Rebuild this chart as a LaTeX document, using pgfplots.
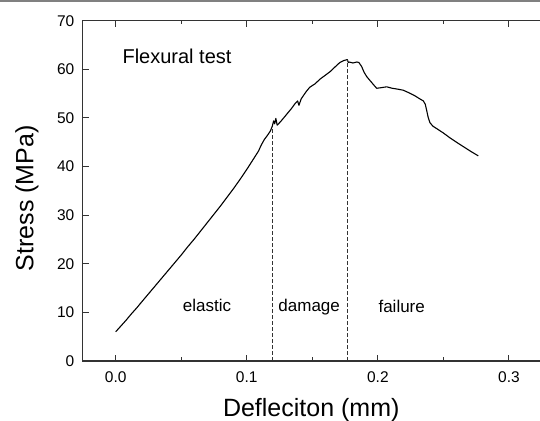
\documentclass[border=0pt]{standalone}
\usepackage{pgfplots}
\pgfplotsset{compat=1.18}
\usepackage{fontspec}
\setmainfont{Liberation Sans}

\pgfplotstableread{
x y
0 6.0
0.004 7.2
0.008 8.4
0.012 9.7
0.016 10.9
0.02 12.2
0.025 13.8
0.03 15.4
0.035 17.0
0.04 18.6
0.045 20.2
0.05 21.8
0.055 23.5
0.06 25.1
0.065 26.8
0.07 28.5
0.075 30.2
0.08 31.9
0.085 33.7
0.09 35.5
0.095 37.4
0.10 39.4
0.105 41.5
0.109 43.2
0.111 44.4
0.1135 45.6
0.116 46.5
0.118 47.3
0.1195 48.3
0.1205 49.4
0.1213 48.8
0.1222 49.9
0.1232 48.5
0.126 49.3
0.13 50.6
0.134 51.9
0.137 53.0
0.1388 53.5
0.1398 52.6
0.1415 53.9
0.145 55.3
0.148 56.3
0.152 57.0
0.156 58.0
0.16 58.8
0.1635 59.5
0.167 60.4
0.171 61.4
0.174 61.8
0.1767 62.0
0.1775 61.4
0.1782 61.5
0.181 61.3
0.184 61.5
0.1855 61.4
0.1876 60.6
0.1895 59.4
0.1915 58.5
0.194 57.7
0.1965 56.9
0.1991 56.1
0.202 56.2
0.2067 56.4
0.211 56.1
0.2155 55.9
0.2194 55.7
0.2235 55.2
0.228 54.6
0.2315 54.0
0.2347 53.5
0.2362 52.8
0.2372 51.6
0.2385 50.0
0.2398 49.0
0.242 48.3
0.2449 47.8
0.25 46.9
0.2550 45.9
0.26 45.0
0.2652 44.1
0.271 43.1
0.2766 42.2
}\flexural

\begin{document}
\begin{tikzpicture}
\begin{axis}[
  name=ax,
  scale only axis,
  width=457.5pt,
  height=340.3pt,
  xmin=-0.0253, xmax=0.3237,
  ymin=0, ymax=70,
  axis x line=box,
  axis y line=left,
  x axis line style={-},
  y axis line style={-},
  axis line style={line width=1.3pt, black!80},
  xtick={0,0.1,0.2,0.3},
  minor x tick num=1,
  ytick={0,10,...,70},
  xticklabels={0.0,0.1,0.2,0.3},
  tick align=inside,
  major tick length=6pt,
  minor tick length=3.5pt,
  tick style={line width=1pt, black!80},
  /pgf/number format/assume math mode=true,
  tick label style={font=\fontsize{15.5}{18}\selectfont, inner sep=0pt},
  xticklabel shift=10.5pt,
  yticklabel shift=8pt,
  every axis x label/.style={at={(axis description cs:0.5,0)}, anchor=base, yshift=-55.5pt},
  every axis y label/.style={at={(axis description cs:0,0.478)}, xshift=-49.2pt, anchor=base, rotate=90},
  label style={font=\fontsize{25}{30}\selectfont},
  xlabel={Defleciton (mm)},
  ylabel={Stress (MPa)},
  clip=false,
]
\addplot[black, line width=1.1pt, line join=round] table[x=x,y=y] {\flexural};
\addplot[black!80, line width=0.8pt, dash pattern=on 4pt off 2pt] coordinates {(0.1192,0) (0.1192,47.9)};
\addplot[black!80, line width=0.8pt, dash pattern=on 4pt off 2pt] coordinates {(0.1767,0) (0.1767,62.0)};
\node[anchor=base, font=\fontsize{20}{24}\selectfont] at (axis cs:0.0468,61.2) {Flexural test};
\node[anchor=base, font=\fontsize{17}{20}\selectfont] at (axis cs:0.0697,10.1) {elastic};
\node[anchor=base, font=\fontsize{17}{20}\selectfont] at (axis cs:0.1476,10.1) {damage};
\node[anchor=base, font=\fontsize{17}{20}\selectfont] at (axis cs:0.2182,9.9) {failure};
\end{axis}
\pgfresetboundingbox
\path[use as bounding box] ([xshift=-82.5pt,yshift=-60pt]ax.south west) rectangle ([yshift=20.7pt]ax.north east);
\draw[gray, line width=1.7pt] ([xshift=-82.5pt,yshift=19.85pt]ax.north west) -- ([yshift=19.85pt]ax.north east);
\end{tikzpicture}
\end{document}
